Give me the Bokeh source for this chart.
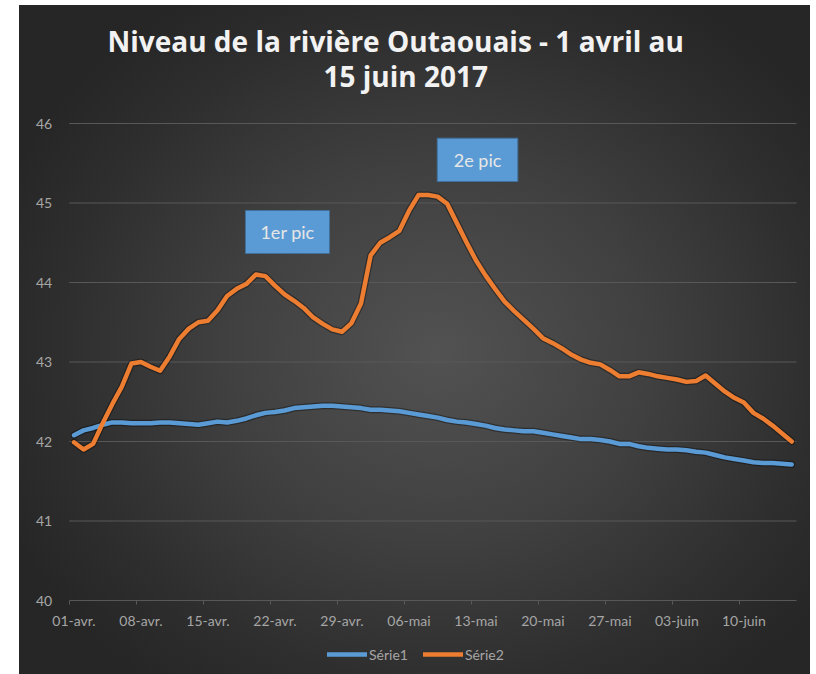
from bokeh.plotting import figure
from bokeh.models import ColumnDataSource, Range1d, FixedTicker, Legend, LegendItem, Title
from bokeh.embed import file_html
from bokeh.resources import INLINE
from bokeh.core.properties import value

# ---- data (one value per day, 1 avril -> 15 juin 2017) ----
serie1 = [42.08, 42.14, 42.17, 42.21, 42.24, 42.24, 42.23, 42.23, 42.23, 42.24,
          42.24, 42.23, 42.22, 42.21, 42.23, 42.25, 42.24, 42.26, 42.29, 42.33,
          42.36, 42.37, 42.39, 42.42, 42.43, 42.44, 42.45, 42.45, 42.44, 42.43,
          42.42, 42.40, 42.40, 42.39, 42.38, 42.36, 42.34, 42.32, 42.30, 42.27,
          42.25, 42.24, 42.22, 42.20, 42.17, 42.15, 42.14, 42.13, 42.13, 42.11,
          42.09, 42.07, 42.05, 42.03, 42.03, 42.02, 42.00, 41.97, 41.97, 41.94,
          41.92, 41.91, 41.90, 41.90, 41.89, 41.87, 41.86, 41.83, 41.80, 41.78,
          41.76, 41.74, 41.73, 41.73, 41.72, 41.71]
serie2 = [41.99, 41.90, 41.97, 42.23, 42.47, 42.69, 42.98, 43.00, 42.94, 42.89,
          43.07, 43.29, 43.42, 43.50, 43.52, 43.65, 43.83, 43.92, 43.98, 44.10,
          44.08, 43.96, 43.85, 43.77, 43.68, 43.56, 43.48, 43.41, 43.38, 43.49,
          43.74, 44.34, 44.50, 44.57, 44.65, 44.90, 45.10, 45.10, 45.08, 44.99,
          44.75, 44.51, 44.28, 44.09, 43.92, 43.76, 43.64, 43.53, 43.42, 43.30,
          43.24, 43.17, 43.09, 43.03, 42.99, 42.97, 42.90, 42.82, 42.82, 42.87,
          42.85, 42.82, 42.80, 42.78, 42.75, 42.76, 42.83, 42.73, 42.63, 42.55,
          42.49, 42.36, 42.29, 42.20, 42.10, 42.00]
series_names = ["Série1", "Série2"]
tick_labels = ["01-avr.", "08-avr.", "15-avr.", "22-avr.", "29-avr.", "06-mai",
               "13-mai", "20-mai", "27-mai", "03-juin", "10-juin"]
y_ticks = [40, 41, 42, 43, 44, 45, 46]
note_texts = ["1er pic", "2e pic"]
title_lines = ["Niveau de la rivière Outaouais - 1 avril au", "15 juin 2017"]

# ---- styling / layout ----
BLUE = "#5B9BD5"
ORANGE = "#ED7D31"
LABEL = "#a6a6a6"
GRID = "#585858"
FONT = "Lato"
TFONT = "Open Sans"

W, H = 791, 669
TOP = 100                          # top of the drawing frame (px)
AXIS_TOP = 118                     # where the highest value tick sits (px)
AX_LEFT, AX_RIGHT = 49.7, 777      # horizontal extent of the value area (px)
PX_PER_UNIT = 477 / 6.0            # vertical scale of the value axis
y_hi = max(y_ticks)
y_lo = min(y_ticks)

n = len(serie1)
px_per_day = (AX_RIGHT - AX_LEFT) / n
# the frame covers the whole canvas so that labels and legend are never clipped
x_start = -AX_LEFT / px_per_day
x_end = n + (W - AX_RIGHT) / px_per_day
y_end = y_hi + (AXIS_TOP - TOP) / PX_PER_UNIT
y_start = y_hi - (H - AXIS_TOP) / PX_PER_UNIT

x = [i + 0.5 for i in range(n)]   # each day sits in the middle of its slot
src = ColumnDataSource(dict(x=x, s1=serie1, s2=serie2))

p = figure(width=W, height=H, x_range=Range1d(x_start, x_end),
           y_range=Range1d(y_start, y_end),
           output_backend="svg", toolbar_location=None,
           min_border_left=0, min_border_right=0, min_border_top=TOP,
           min_border_bottom=0)
p.margin = (5, 0, 0, 19)
p.border_fill_color = None
p.background_fill_color = None
p.outline_line_color = None
p.styles = {"background": "radial-gradient(ellipse 60% 62% at 53% 52%, #525252 0%, #404040 45%, #2e2e2e 80%, #262626 100%)"}

# titles (line 2 first: closest to the frame)
t2 = Title(text=title_lines[1], align="left", offset=304, text_font=TFONT,
           text_font_size="28px", text_font_style="bold", text_color="#f2f2f2",
           standoff=22)
t1 = Title(text=title_lines[0], align="left", offset=88,
           text_font=TFONT, text_font_size="28px", text_font_style="bold",
           text_color="#f2f2f2", standoff=-32)
p.add_layout(t2, "above")
p.add_layout(t1, "above")

# value axis, drawn at the start of the date axis
p.yaxis.fixed_location = 0
p.yaxis.ticker = FixedTicker(ticks=y_ticks)
p.yaxis.axis_line_color = None
p.yaxis.major_tick_line_color = None
p.yaxis.minor_tick_line_color = None
p.yaxis.major_label_standoff = 11
p.yaxis.major_label_text_color = LABEL
p.yaxis.major_label_text_font = FONT
p.yaxis.major_label_text_font_size = "14px"

# date axis, drawn at the lowest value
step = 7
tick_pos = [k * step + 0.5 for k in range(len(tick_labels))]
p.xaxis.fixed_location = y_lo
p.xaxis.bounds = (0, n)
p.xaxis.ticker = FixedTicker(ticks=tick_pos, minor_ticks=[k * step for k in range(len(tick_labels))])
p.xaxis.major_label_overrides = {t: lab for t, lab in zip(tick_pos, tick_labels)}
p.xaxis.axis_line_color = GRID
p.xaxis.major_tick_line_color = None
p.xaxis.minor_tick_line_color = GRID
p.xaxis.minor_tick_out = 4
p.xaxis.minor_tick_in = 0
p.xaxis.major_label_standoff = 5
p.xaxis.major_label_text_color = LABEL
p.xaxis.major_label_text_font = FONT
p.xaxis.major_label_text_font_size = "14px"

# horizontal grid limited to the date span
p.xgrid.grid_line_color = None
p.ygrid.grid_line_color = None
grid = ColumnDataSource(dict(y=y_ticks[1:], x0=[0] * (len(y_ticks) - 1),
                             x1=[n] * (len(y_ticks) - 1)))
p.segment(x0="x0", y0="y", x1="x1", y1="y", source=grid, line_color=GRID, line_width=1)

# lines with a soft shadow
for col in ("s1", "s2"):
    p.line("x", col, source=src, line_color="black", line_alpha=0.35, line_width=7,
           line_join="round", line_cap="round")
r1 = p.line("x", "s1", source=src, line_color=BLUE, line_width=4.5,
            line_join="round", line_cap="round")
r2 = p.line("x", "s2", source=src, line_color=ORANGE, line_width=4.5,
            line_join="round", line_cap="round")

# annotation boxes
notes = ColumnDataSource(dict(
    left=[18.42, 38.46], right=[27.2, 46.88],
    bottom=[44.365, 45.27], top=[44.906, 45.815], text=note_texts))
p.quad(left="left", right="right", bottom="bottom", top="top", source=notes,
       fill_color=BLUE, line_color="#41719C", line_width=1)
notes.data["cx"] = [(a + b) / 2 for a, b in zip(notes.data["left"], notes.data["right"])]
notes.data["cy"] = [(a + b) / 2 for a, b in zip(notes.data["bottom"], notes.data["top"])]
p.text(x="cx", y="cy", text="text", source=notes, text_align="center",
       text_baseline="middle", text_color="#e6e6e6", text_font=value(FONT),
       text_font_size="18px")

legend = Legend(items=[LegendItem(label=series_names[0], renderers=[r1]),
                       LegendItem(label=series_names[1], renderers=[r2])],
                location=(308, 10), orientation="horizontal",
                glyph_width=40, glyph_height=20, label_standoff=2, spacing=15,
                padding=0, margin=0, border_line_color=None,
                background_fill_alpha=0, label_text_color=LABEL,
                label_text_font=FONT, label_text_font_size="14px")
p.add_layout(legend)

open("out.html", "w").write(file_html(p, INLINE))
